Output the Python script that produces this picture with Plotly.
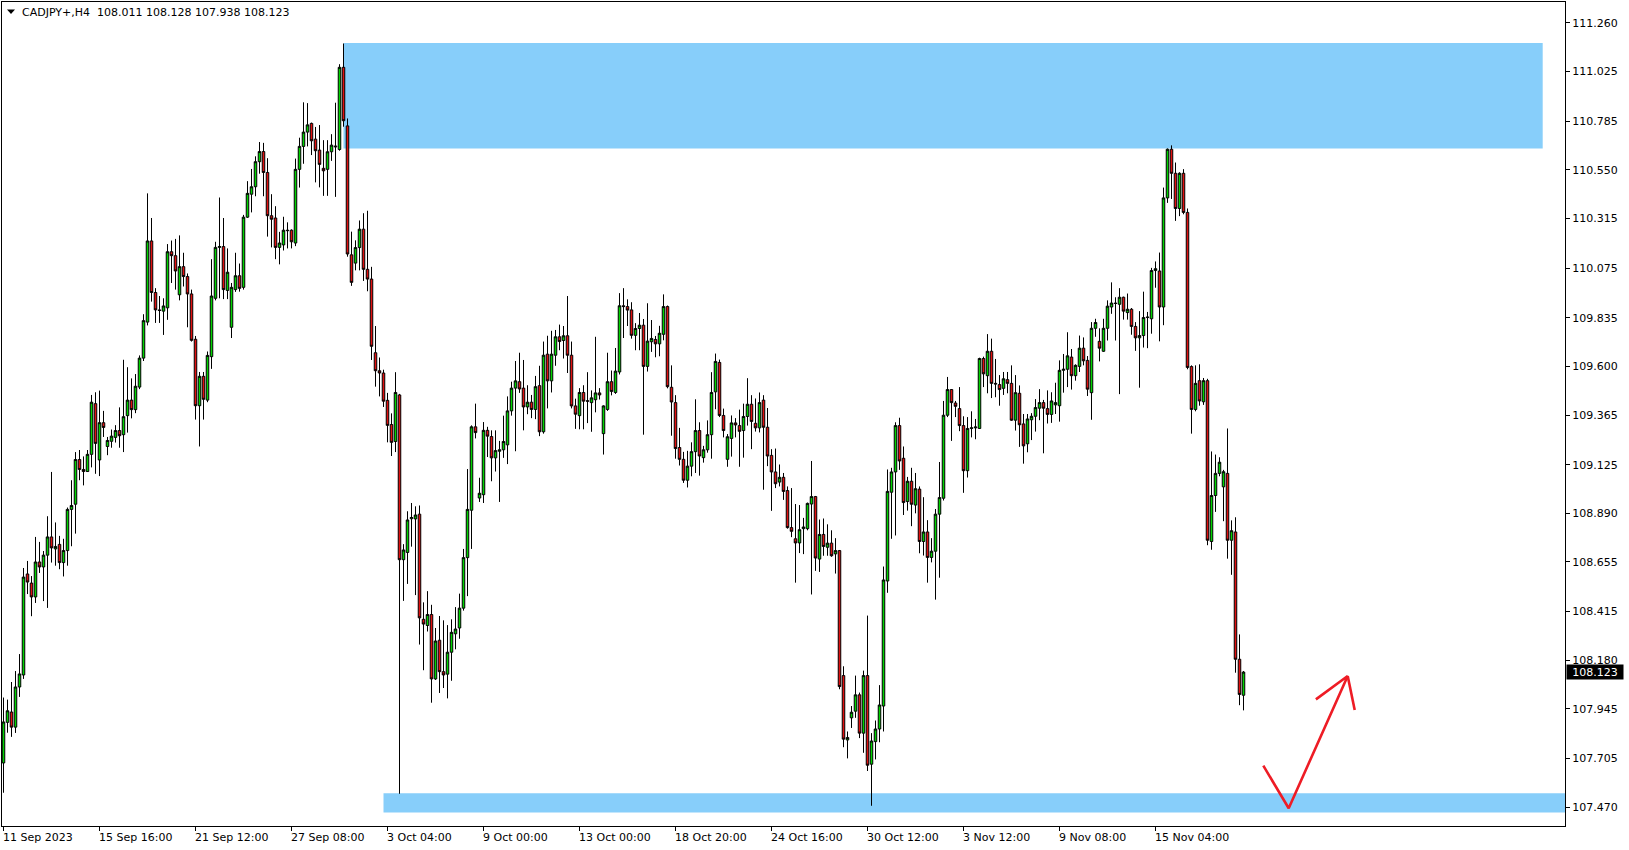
import plotly.graph_objects as go

# ---------------- data (CADJPY+, H4) ----------------
opens = [
    107.684, 107.88, 107.93, 107.857, 108.051, 108.109, 108.597, 108.553, 108.486, 108.655,
    108.631, 108.688, 108.776, 108.718, 108.74, 108.652, 108.71, 108.909, 108.934, 109.15,
    109.102, 109.092, 109.175, 109.42, 109.148, 109.328, 109.213, 109.238, 109.257, 109.29,
    109.27, 109.362, 109.437, 109.391, 109.5, 109.64, 109.814, 110.206, 109.957, 109.873,
    109.867, 109.883, 110.154, 110.135, 109.946, 110.082, 110.034, 109.95, 109.731, 109.41,
    109.552, 109.437, 109.647, 109.929, 110.175, 110.179, 109.967, 109.789, 109.971, 110.038,
    109.982, 110.321, 110.432, 110.468, 110.589, 110.638, 110.537, 110.328, 110.317, 110.175,
    110.187, 110.258, 110.258, 110.196, 110.552, 110.663, 110.732, 110.774, 110.698, 110.645,
    110.557, 110.552, 110.637, 110.665, 110.648, 111.045, 110.762, 110.139, 110.099, 110.174,
    110.263, 110.069, 110.022, 109.666, 109.579, 109.568, 109.436, 109.319, 109.237, 109.462,
    108.666, 108.701, 108.864, 108.863, 108.886, 108.378, 108.348, 108.401, 108.09, 108.277,
    108.125, 108.113, 108.219, 108.308, 108.336, 108.432, 108.676, 108.905, 109.308, 108.964,
    108.98, 109.291, 109.261, 109.158, 109.19, 109.197, 109.221, 109.385, 109.495, 109.526,
    109.495, 109.404, 109.427, 109.392, 109.507, 109.284, 109.659, 109.53, 109.654, 109.743,
    109.725, 109.748, 109.654, 109.409, 109.362, 109.474, 109.434, 109.425, 109.439, 109.472,
    109.275, 109.392, 109.526, 109.474, 109.573, 109.893, 109.889, 109.873, 109.75, 109.783,
    109.799, 109.6, 109.719, 109.73, 109.709, 109.755, 109.889, 109.499, 109.425, 109.208,
    109.151, 109.05, 109.118, 109.188, 109.29, 109.159, 109.197, 109.27, 109.477, 109.619,
    109.363, 109.151, 109.252, 109.327, 109.314, 109.29, 109.358, 109.417, 109.325, 109.303,
    109.437, 109.306, 109.17, 109.09, 109.041, 109.064, 109.0, 108.821, 108.767, 108.747,
    108.816, 108.816, 108.935, 108.971, 108.669, 108.788, 108.726, 108.746, 108.694, 108.71,
    108.106, 107.795, 107.902, 107.934, 108.013, 107.828, 108.106, 107.678, 107.787, 107.848,
    107.959, 108.563, 108.992, 109.09, 109.314, 109.156, 108.947, 109.045, 108.93, 109.007,
    108.754, 108.8, 108.677, 108.707, 108.886, 108.963, 109.364, 109.488, 109.423, 109.396,
    109.314, 109.096, 109.3, 109.303, 109.3, 109.638, 109.555, 109.673, 109.518, 109.512,
    109.494, 109.536, 109.518, 109.34, 109.47, 109.322, 109.226, 109.342, 109.359, 109.398,
    109.425, 109.396, 109.368, 109.414, 109.41, 109.581, 109.586, 109.645, 109.555, 109.6,
    109.688, 109.629, 109.473, 109.784, 109.721, 109.673, 109.784, 109.887, 109.906, 109.9,
    109.934, 109.86, 109.876, 109.793, 109.738, 109.749, 109.836, 109.83, 110.063, 110.061,
    109.887, 110.414, 110.649, 110.533, 110.363, 110.533, 110.344, 109.599, 109.392, 109.531,
    109.429, 109.531, 108.754, 108.976, 109.083, 109.018, 109.083, 108.76, 108.8, 108.185,
    108.011,
]
highs = [
    108.0, 107.99, 108.075, 108.128, 108.21, 108.626, 108.66, 108.587, 108.776, 108.752,
    108.708, 108.876, 109.09, 108.846, 108.781, 108.767, 108.918, 109.05, 109.186, 109.196,
    109.165, 109.196, 109.462, 109.475, 109.483, 109.385, 109.259, 109.295, 109.316, 109.402,
    109.632, 109.596, 109.542, 109.563, 109.653, 109.852, 110.436, 110.317, 109.978, 109.94,
    109.929, 110.191, 110.208, 110.216, 110.233, 110.149, 110.049, 109.971, 109.747, 109.573,
    109.573, 109.672, 110.118, 110.202, 110.416, 110.317, 110.17, 110.003, 110.149, 110.097,
    110.332, 110.495, 110.554, 110.615, 110.684, 110.68, 110.606, 110.432, 110.374, 110.25,
    110.323, 110.296, 110.262, 110.604, 110.705, 110.876, 110.872, 110.778, 110.757, 110.766,
    110.693, 110.693, 110.722, 110.874, 111.06, 111.16, 110.798, 110.251, 110.209, 110.305,
    110.34, 110.352, 110.081, 109.795, 109.643, 109.584, 109.472, 109.373, 109.572, 109.467,
    108.741, 108.9, 108.94, 108.924, 108.928, 108.46, 108.514, 108.448, 108.336, 108.394,
    108.373, 108.35, 108.378, 108.437, 108.502, 108.718, 109.104, 109.315, 109.42, 109.062,
    109.331, 109.308, 109.291, 109.291, 109.24, 109.362, 109.455, 109.526, 109.626, 109.666,
    109.631, 109.509, 109.462, 109.554, 109.603, 109.72, 109.748, 109.772, 109.776, 109.802,
    109.795, 109.94, 109.72, 109.444, 109.495, 109.509, 109.572, 109.484, 109.743, 109.495,
    109.412, 109.666, 109.58, 109.689, 109.954, 109.978, 109.924, 109.91, 109.809, 109.858,
    109.829, 109.905, 109.824, 109.747, 109.796, 109.948, 109.894, 109.605, 109.461, 109.303,
    109.187, 109.192, 109.233, 109.441, 109.33, 109.216, 109.339, 109.572, 109.662, 109.633,
    109.396, 109.273, 109.363, 109.35, 109.391, 109.42, 109.543, 109.461, 109.445, 109.474,
    109.461, 109.399, 109.2, 109.203, 109.126, 109.085, 109.02, 109.012, 108.935, 108.93,
    108.868, 108.942, 109.143, 108.974, 108.86, 108.865, 108.837, 108.808, 108.77, 108.713,
    108.151, 107.836, 107.959, 108.106, 108.024, 108.13, 108.396, 107.828, 107.889, 108.06,
    108.633, 109.102, 109.11, 109.33, 109.352, 109.213, 109.066, 109.11, 109.085, 109.02,
    108.968, 108.857, 108.77, 108.911, 109.138, 109.433, 109.549, 109.49, 109.433, 109.5,
    109.359, 109.355, 109.383, 109.346, 109.642, 109.647, 109.756, 109.734, 109.636, 109.558,
    109.573, 109.573, 109.605, 109.558, 109.508, 109.37, 109.37, 109.374, 109.442, 109.49,
    109.438, 109.484, 109.475, 109.521, 109.629, 109.66, 109.765, 109.684, 109.61, 109.749,
    109.74, 109.65, 109.814, 109.83, 109.784, 109.83, 109.919, 110.006, 109.934, 109.978,
    109.937, 109.952, 109.882, 109.814, 109.867, 109.961, 109.863, 110.076, 110.107, 110.15,
    110.464, 110.653, 110.668, 110.585, 110.538, 110.553, 110.363, 109.605, 109.605, 109.61,
    109.544, 109.54, 109.189, 109.174, 109.161, 109.1, 109.3, 108.856, 108.871, 108.305,
    108.128,
]
lows = [
    107.54, 107.83, 107.81, 107.829, 108.003, 108.09, 108.50, 108.393, 108.457, 108.602,
    108.466, 108.433, 108.652, 108.637, 108.62, 108.585, 108.637, 108.731, 108.792, 109.05,
    109.025, 109.09, 109.112, 109.081, 109.07, 109.259, 109.171, 109.207, 109.232, 109.207,
    109.186, 109.28, 109.349, 109.374, 109.49, 109.626, 109.798, 109.913, 109.81, 109.81,
    109.752, 109.825, 110.003, 109.971, 109.919, 109.986, 109.789, 109.72, 109.343, 109.213,
    109.343, 109.427, 109.588, 109.919, 109.929, 109.925, 109.925, 109.737, 109.96, 109.961,
    109.971, 110.317, 110.344, 110.422, 110.531, 110.422, 110.227, 110.175, 110.118, 110.093,
    110.16, 110.17, 110.17, 110.181, 110.464, 110.579, 110.663, 110.621, 110.489, 110.465,
    110.424, 110.424, 110.593, 110.419, 110.642, 110.758, 110.13, 109.989, 110.064, 110.064,
    110.013, 109.963, 109.631, 109.502, 109.455, 109.404, 109.233, 109.167, 109.186, 107.535,
    108.467, 108.549, 108.729, 108.495, 108.256, 108.132, 108.319, 107.975, 108.085, 108.022,
    108.046, 107.996, 108.081, 108.233, 108.284, 108.42, 108.49, 108.718, 109.252, 108.945,
    108.94, 109.162, 109.045, 109.092, 108.945, 109.158, 109.128, 109.362, 109.19, 109.472,
    109.291, 109.369, 109.35, 109.345, 109.263, 109.275, 109.397, 109.474, 109.603, 109.678,
    109.638, 109.568, 109.397, 109.298, 109.296, 109.296, 109.326, 109.284, 109.378, 109.44,
    109.174, 109.385, 109.46, 109.467, 109.561, 109.737, 109.795, 109.734, 109.678, 109.678,
    109.27, 109.575, 109.67, 109.644, 109.649, 109.726, 109.494, 109.265, 109.154, 109.121,
    109.037, 109.015, 109.069, 109.085, 109.072, 109.135, 109.183, 109.154, 109.393, 109.355,
    109.257, 109.115, 109.164, 109.257, 109.115, 109.159, 109.314, 109.2, 109.285, 109.281,
    109.004, 109.118, 108.902, 109.012, 109.02, 108.955, 108.816, 108.775, 108.555, 108.698,
    108.693, 108.808, 108.498, 108.612, 108.607, 108.685, 108.685, 108.68, 108.599, 108.04,
    107.76, 107.706, 107.853, 107.902, 107.804, 107.733, 107.645, 107.477, 107.701, 107.784,
    107.836, 108.506, 108.767, 108.783, 109.10, 108.882, 108.903, 108.828, 108.89, 108.697,
    108.686, 108.555, 108.653, 108.473, 108.579, 108.952, 109.355, 109.24, 109.355, 109.287,
    108.989, 109.063, 109.257, 109.248, 109.298, 109.5, 109.47, 109.447, 109.451, 109.41,
    109.462, 109.47, 109.337, 109.29, 109.211, 109.13, 109.185, 109.244, 109.285, 109.34,
    109.18, 109.324, 109.327, 109.37, 109.333, 109.473, 109.5, 109.488, 109.531, 109.573,
    109.605, 109.457, 109.342, 109.743, 109.624, 109.67, 109.725, 109.854, 109.725, 109.466,
    109.826, 109.826, 109.753, 109.675, 109.497, 109.691, 109.688, 109.758, 109.98, 109.721,
    109.799, 110.39, 110.409, 110.303, 110.326, 110.335, 109.586, 109.275, 109.383, 109.41,
    109.414, 108.736, 108.714, 108.897, 109.069, 108.852, 108.671, 108.593, 108.12, 107.963,
    107.938,
]
closes = [
    107.882, 107.936, 107.857, 108.051, 108.114, 108.582, 108.558, 108.486, 108.655, 108.631,
    108.688, 108.776, 108.723, 108.73, 108.652, 108.71, 108.909, 108.928, 109.15, 109.102,
    109.092, 109.175, 109.427, 109.228, 109.328, 109.305, 109.242, 109.263, 109.29, 109.265,
    109.357, 109.437, 109.391, 109.504, 109.64, 109.821, 110.206, 109.957, 109.873, 109.87,
    109.892, 110.154, 110.135, 110.061, 110.082, 110.034, 109.95, 109.726, 109.41, 109.552,
    109.441, 109.653, 109.94, 110.175, 110.179, 109.971, 110.055, 109.982, 110.038, 109.977,
    110.321, 110.436, 110.468, 110.589, 110.638, 110.537, 110.328, 110.311, 110.175, 110.196,
    110.258, 110.256, 110.202, 110.552, 110.663, 110.732, 110.767, 110.69, 110.642, 110.576,
    110.545, 110.637, 110.669, 110.661, 111.045, 110.787, 110.143, 110.006, 110.174, 110.263,
    110.069, 110.022, 109.697, 109.579, 109.568, 109.432, 109.315, 109.233, 109.474, 108.666,
    108.713, 108.858, 108.87, 108.882, 108.385, 108.355, 108.401, 108.09, 108.273, 108.125,
    108.109, 108.219, 108.315, 108.331, 108.432, 108.676, 108.909, 109.308, 109.28, 108.987,
    109.291, 109.263, 109.158, 109.193, 109.197, 109.237, 109.385, 109.495, 109.53, 109.491,
    109.404, 109.427, 109.392, 109.502, 109.284, 109.654, 109.53, 109.659, 109.743, 109.72,
    109.748, 109.654, 109.409, 109.369, 109.474, 109.432, 109.432, 109.448, 109.472, 109.462,
    109.409, 109.526, 109.479, 109.577, 109.893, 109.889, 109.872, 109.75, 109.783, 109.799,
    109.6, 109.722, 109.735, 109.709, 109.76, 109.889, 109.502, 109.428, 109.203, 109.151,
    109.05, 109.118, 109.188, 109.29, 109.167, 109.197, 109.27, 109.474, 109.624, 109.363,
    109.29, 109.26, 109.327, 109.317, 109.286, 109.358, 109.417, 109.334, 109.303, 109.425,
    109.306, 109.167, 109.09, 109.033, 109.064, 108.996, 108.821, 108.803, 108.747, 108.811,
    108.824, 108.938, 108.971, 108.674, 108.788, 108.73, 108.746, 108.685, 108.71, 108.053,
    107.799, 107.807, 107.929, 108.013, 107.828, 108.106, 107.673, 107.79, 107.848, 107.964,
    108.568, 108.996, 109.09, 109.314, 109.143, 108.942, 109.045, 108.934, 109.009, 108.754,
    108.8, 108.677, 108.707, 108.886, 108.966, 109.364, 109.488, 109.425, 109.407, 109.314,
    109.096, 109.3, 109.303, 109.307, 109.638, 109.564, 109.673, 109.518, 109.515, 109.488,
    109.54, 109.518, 109.34, 109.473, 109.318, 109.216, 109.346, 109.359, 109.401, 109.425,
    109.398, 109.368, 109.433, 109.425, 109.581, 109.586, 109.651, 109.555, 109.605, 109.688,
    109.627, 109.49, 109.784, 109.812, 109.688, 109.784, 109.891, 109.906, 109.904, 109.934,
    109.867, 109.876, 109.793, 109.738, 109.749, 109.836, 109.838, 110.063, 110.072, 109.887,
    110.414, 110.649, 110.533, 110.363, 110.533, 110.344, 109.595, 109.392, 109.518, 109.433,
    109.531, 108.76, 108.976, 109.083, 109.137, 109.091, 108.76, 108.806, 108.185, 108.015,
    108.123,
]
bars = list(range(len(closes)))

# time-axis labels (one every 24 bars)
x_tick_bars = [0, 24, 48, 72, 96, 120, 144, 168, 192, 216, 240, 264, 288]
x_tick_labels = ["11 Sep 2023", "15 Sep 16:00", "21 Sep 12:00", "27 Sep 08:00",
                 "3 Oct 04:00", "9 Oct 00:00", "13 Oct 00:00", "18 Oct 20:00",
                 "24 Oct 16:00", "30 Oct 12:00", "3 Nov 12:00", "9 Nov 08:00",
                 "15 Nov 04:00"]
# price-axis labels
y_ticks = [107.470, 107.705, 107.945, 108.180, 108.415, 108.655, 108.890, 109.125,
           109.365, 109.600, 109.835, 110.075, 110.315, 110.550, 110.785, 111.025, 111.260]

symbol = "CADJPY+,H4"
last_price = 108.123

# zones drawn on the chart (bar index from/to, price low/high)
supply_zone = dict(x0=85, x1=384.8, y0=110.653, y1=111.163)
demand_zone = dict(x0=95, x1=390.375, y0=107.444, y1=107.537)

# hand-drawn red arrow (bar index, price)
arrow_x = [314.95, 321.3, 336.05, 328.1, None, 336.05, 337.8]
arrow_y = [107.671, 107.465, 108.104, 107.991, None, 108.104, 107.940]

# ---------------- figure ----------------
W, H = 1629, 850
ML, MR, MT, MB = 2, 64, 2, 24
X_RANGE = [-0.375, 390.375]
Y_RANGE = [107.3793, 111.3606]
FONT = "DejaVu Sans"

fig = go.Figure()

fig.add_trace(go.Candlestick(
    x=bars, open=opens, high=highs, low=lows, close=closes,
    increasing=dict(fillcolor="#00d400", line=dict(color="black", width=1)),
    decreasing=dict(fillcolor="#e01010", line=dict(color="black", width=1)),
    whiskerwidth=0, hoverinfo="skip", showlegend=False,
))

fig.add_trace(go.Scatter(
    x=arrow_x, y=arrow_y, mode="lines",
    line=dict(color="#ee1c25", width=2.6), hoverinfo="skip", showlegend=False,
    connectgaps=False,
))

for z in (supply_zone, demand_zone):
    fig.add_shape(type="rect", xref="x", yref="y", layer="below",
                  fillcolor="#87cefa", line=dict(width=0), **z)

# small triangle before the header text
pw = W - ML - MR
ph = H - MT - MB
def px(x):
    return (x - ML) / pw
def py(y):
    return (H - MB - y) / ph
fig.add_shape(type="path", xref="paper", yref="paper",
              path=f"M {px(7)} {py(9.5)} L {px(15)} {py(9.5)} L {px(11)} {py(14)} Z",
              fillcolor="black", line=dict(width=0))

annotations = []
header = f"{symbol}\u00a0\u00a0{opens[-1]:.3f} {highs[-1]:.3f} {lows[-1]:.3f} {closes[-1]:.3f}"
annotations.append(dict(text=header, xref="paper", yref="paper", x=0, y=1,
                        xanchor="left", yanchor="middle", xshift=17.5, yshift=-10.7,
                        showarrow=False, font=dict(family=FONT, size=11, color="black")))
for b, lab in zip(x_tick_bars, x_tick_labels):
    annotations.append(dict(text=lab, xref="x", yref="paper", x=b, y=0,
                            xanchor="left", yanchor="top", xshift=-3, yshift=-3,
                            showarrow=False, font=dict(family=FONT, size=11, color="black")))
annotations.append(dict(text=f"{last_price:.3f}", xref="paper", yref="y", x=1, y=last_price,
                        xanchor="left", yanchor="middle", xshift=1, showarrow=False,
                        bgcolor="black", width=54, height=12, borderpad=1, align="center",
                        font=dict(family=FONT, size=11, color="white")))

fig.update_layout(
    width=W, height=H,
    margin=dict(l=ML, r=MR, t=MT, b=MB, pad=0),
    paper_bgcolor="white", plot_bgcolor="white",
    showlegend=False, hovermode=False,
    annotations=annotations,
    boxgap=0.3, boxgroupgap=0.1,
)
fig.update_xaxes(
    range=X_RANGE, rangeslider=dict(visible=False),
    showgrid=False, zeroline=False,
    showline=True, mirror=True, linecolor="black", linewidth=1,
    ticks="outside", ticklen=4, tickcolor="black", tickwidth=1,
    tickvals=x_tick_bars, showticklabels=False, fixedrange=True,
)
fig.update_yaxes(
    range=Y_RANGE, side="right",
    showgrid=False, zeroline=False,
    showline=True, mirror=True, linecolor="black", linewidth=1,
    ticks="outside", ticklen=4, tickcolor="black", tickwidth=1,
    tickvals=y_ticks, ticktext=[f"{v:.3f}" for v in y_ticks],
    tickfont=dict(family=FONT, size=11, color="black"), fixedrange=True,
)

fig.write_html("out.html", include_plotlyjs=True, full_html=True,
               config={"displayModeBar": False, "staticPlot": True},
               post_script="document.body.style.margin='0px';document.body.style.overflow='hidden';")
